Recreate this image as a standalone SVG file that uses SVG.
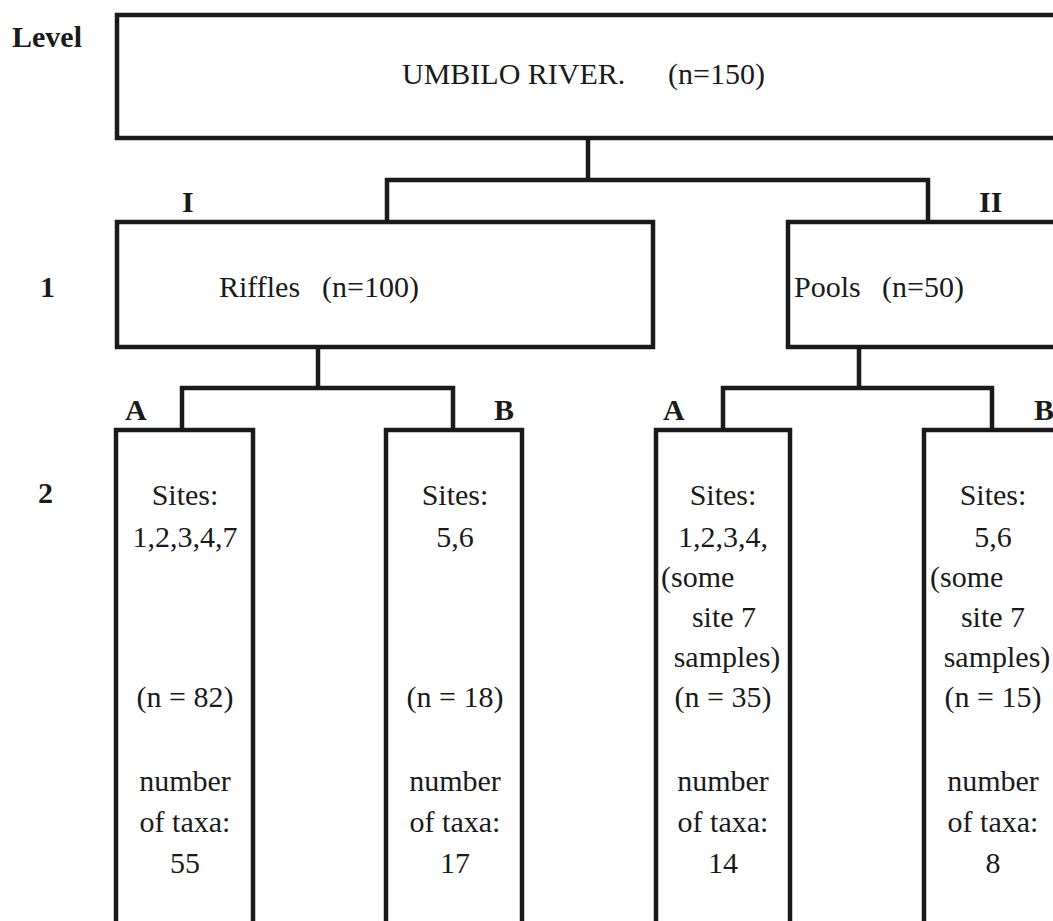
<svg xmlns="http://www.w3.org/2000/svg" width="1053" height="921" viewBox="0 0 1053 921">
  <style>
    .box { fill: #ffffff; stroke: #1a1a1a; stroke-width: 4.5; }
    .link { fill: none; stroke: #1a1a1a; stroke-width: 4.5; stroke-linejoin: miter; }
    .t { font-family: "Liberation Serif", "Times New Roman", serif; font-size: 30px; fill: #1a1a1a; }
    .c { text-anchor: middle; }
    .lab { font-family: "Liberation Serif", "Times New Roman", serif; font-size: 30px; font-weight: bold; fill: #1a1a1a; }
  </style>
  <rect width="1053" height="921" fill="#ffffff"/>

  <!-- level and branch labels -->
  <g id="labels">
    <text class="lab" x="12" y="47">Level</text>
    <text class="lab" x="40" y="297">1</text>
    <text class="lab" x="38" y="503">2</text>
    <text class="lab" x="182" y="212">I</text>
    <text class="lab" x="979" y="212">II</text>
    <text class="lab" x="125" y="420">A</text>
    <text class="lab" x="494" y="420">B</text>
    <text class="lab" x="663" y="420">A</text>
    <text class="lab" x="1034" y="420">B</text>
  </g>

  <!-- connectors -->
  <g id="connectors">
    <path class="link" d="M588,138 V180 M387,222 V180 H928 V222"/>
    <path class="link" d="M318,347 V388 M182,430 V388 H453 V430"/>
    <path class="link" d="M859,347 V388 M723,430 V388 H992 V430"/>
  </g>

  <g id="root">
    <rect class="box" x="117" y="15" width="960" height="123"/>
    <text class="t" x="402" y="84">UMBILO RIVER.</text>
    <text class="t" x="668" y="84">(n=150)</text>
  </g>

  <g id="riffles">
    <rect class="box" x="117" y="222" width="536" height="125"/>
    <text class="t" x="219" y="297">Riffles</text>
    <text class="t" x="322" y="297">(n=100)</text>
  </g>

  <g id="pools">
    <rect class="box" x="788" y="222" width="300" height="125"/>
    <text class="t" x="794" y="297">Pools</text>
    <text class="t" x="882" y="297">(n=50)</text>
  </g>

  <g id="riffles-a">
    <rect class="box" x="116" y="430" width="137" height="520"/>
    <text class="t c" x="185" y="505">Sites:</text>
    <text class="t c" x="185" y="547">1,2,3,4,7</text>
    <text class="t c" x="185" y="707">(n = 82)</text>
    <text class="t c" x="185" y="791">number</text>
    <text class="t c" x="185" y="832">of taxa:</text>
    <text class="t c" x="185" y="873">55</text>
  </g>

  <g id="riffles-b">
    <rect class="box" x="386" y="430" width="136" height="520"/>
    <text class="t c" x="455" y="505">Sites:</text>
    <text class="t c" x="455" y="547">5,6</text>
    <text class="t c" x="455" y="707">(n = 18)</text>
    <text class="t c" x="455" y="791">number</text>
    <text class="t c" x="455" y="832">of taxa:</text>
    <text class="t c" x="455" y="873">17</text>
  </g>

  <g id="pools-a">
    <rect class="box" x="656" y="430" width="134" height="520"/>
    <text class="t c" x="723" y="505">Sites:</text>
    <text class="t c" x="723" y="547">1,2,3,4,</text>
    <text class="t" x="661" y="587">(some</text>
    <text class="t c" x="724" y="627">site 7</text>
    <text class="t c" x="727" y="667">samples)</text>
    <text class="t c" x="723" y="707">(n = 35)</text>
    <text class="t c" x="723" y="791">number</text>
    <text class="t c" x="723" y="832">of taxa:</text>
    <text class="t c" x="723" y="873">14</text>
  </g>

  <g id="pools-b">
    <rect class="box" x="924" y="430" width="140" height="520"/>
    <text class="t c" x="993" y="505">Sites:</text>
    <text class="t c" x="993" y="547">5,6</text>
    <text class="t" x="930" y="587">(some</text>
    <text class="t c" x="993" y="627">site 7</text>
    <text class="t c" x="997" y="667">samples)</text>
    <text class="t c" x="993" y="707">(n = 15)</text>
    <text class="t c" x="993" y="791">number</text>
    <text class="t c" x="993" y="832">of taxa:</text>
    <text class="t c" x="993" y="873">8</text>
  </g>
</svg>
